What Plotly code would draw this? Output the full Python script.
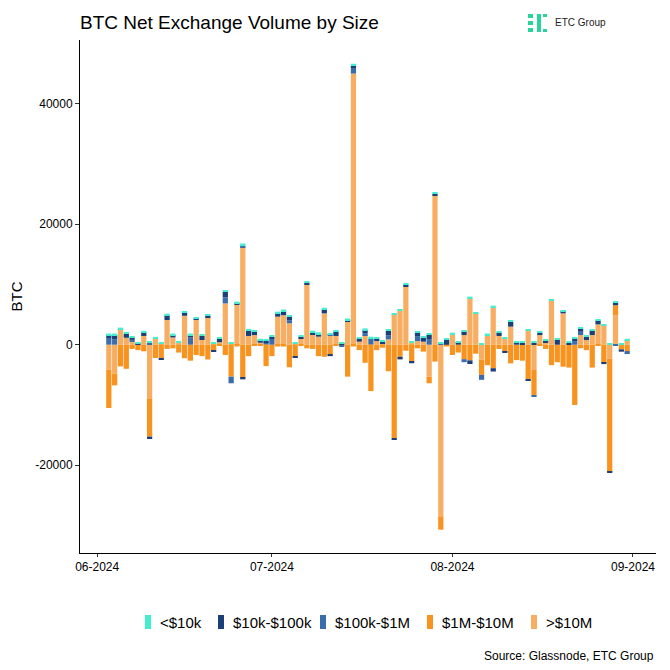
import pandas as pd
import plotly.graph_objects as go

# ---- data (BTC, daily) ----
dates = pd.date_range("2024-06-03", "2024-08-31", freq="D")

lt_10k = [250, 250, 250, 150, 200, 150, 200, 200, 250, 200,
          250, 250, 170, 250, 250, 200, 220, 220, 200, 220,
          280, 200, 250, 300, 280, 280, 220, 220, 280, 280,
          280, 280, 170, 280, 280, 280, 280, 280, 170, 280,
          170, 280, 330, 220, 280, 280, 220, 200, 280, 200,
          220, 170, 200, 220, 200, 220, 250, 200, 170, 220,
          170, 170, 280, 170, 170, 250, 280, 200, 170, 280,
          170, 170, 170, 170, 170, 170, 170, 170, 170, 170,
          170, 170, 170, 170, 170, 170, 170, 170, 170, 220]

k10_100k = [600, 700, 80, 650, 400, 50, 650, -400, 0, -170,
            800, 400, 0, 550, 400, 170, 700, 330, -220, 550,
            900, 0, 300, -250, 900, 550, 440, 300, 300, 550,
            660, 600, -200, 220, 330, 280, 440, 660, -200, 720,
            270, 280, 500, 550, 500, 0, 440, 330, 700, -220,
            -440, 280, -280, 700, 660, 700, 300, 0, 880, 0,
            440, 660, -600, 0, 0, 0, -550, 600, -200, 830,
            440, 330, -220, 330, 400, 330, 0, 880, 390, 300,
            500, 500, 550, 770, 660, -220, -150, 390, -390, 0]

k100_1m = [1000, 900, 0, 0, 300, 0, 0, 300, 0, 0,
           0, 0, 0, 0, 1200, 0, 0, 0, 0, 0,
           1000, -1100, 0, 300, 0, 0, 0, 360, 1000, 0,
           0, 500, 0, 0, 0, 0, 0, 0, 280, 0,
           -300, 0, 800, 0, 330, 1000, 0, 0, 700, 0,
           0, 0, 0, 740, 0, 950, 0, 200, 0, 0,
           0, -500, 0, 0, -830, 0, 0, 0, 0, 0,
           0, 0, 0, -170, 0, 0, 0, 0, 0, 0,
           600, 550, 0, 0, 0, 0, 0, -100, 0, -500]

m1_10m = [-6350, -1950, -3600, -4000, -700, -900, -1100, -6350, -2200, -2250,
          -700, -600, -1300, -2250, -2650, -1700, -1900, -2450, -900, -200,
          -1700, -5300, -300, -5500, -1900, -100, -100, -3550, -1900, -300,
          -300, -3750, -2000, -200, -600, -700, -1900, -2000, -1700, -100,
          -50, -5300, -300, -900, -3000, -7700, -900, -500, -4400, -15500,
          -2000, -1000, -2800, -600, -1150, -1100, -2800, -2200, -300, -1700,
          -1300, -2400, -2600, -1500, -2500, -3400, -3900, -700, -1150, -3100,
          -2550, -2650, -5750, -4150, -200, -700, -3400, -2900, -3650, -3800,
          -10000, -600, -900, -3800, -200, -3000, -18800, 1650, -770, -1050]

gt_10m = [-4150, -4800, 2500, 1150, 500, 100, 1450, -8900, 1050, 240,
          4100, 1200, 300, 4800, 0, 4100, 780, 4500, 240, 400,
          6850, 190, 6600, 16200, 1450, 1600, 330, 50, 0, 4650,
          4900, 3550, 200, 1100, 9950, 1770, 1330, 5200, 1450, 1450,
          0, 3800, 45000, 500, 1600, 50, 600, 150, 880, 5000,
          5640, 9700, 300, 600, 500, -5300, 24750, -28500, 0, 1770,
          0, 1600, 7700, 5200, -2500, 1600, 6200, 1440, 1000, 3000,
          0, 0, 2400, -4200, 1600, 440, 7400, 0, 5200, 0,
          0, 1600, 770, 1600, 3370, 3200, -2300, 4900, 0, 770]

series_names = ["<$10k", "$10k-$100k", "$100k-$1M", "$1M-$10M", ">$10M"]
series_values = [lt_10k, k10_100k, k100_1m, m1_10m, gt_10m]
series_colors = ["#45EDCF", "#1C3F78", "#3A6DAA", "#F7931E", "#F8AE62"]

ytick_vals = [-20000, 0, 20000, 40000]
ytick_text = ["-20000", "0", "20000", "40000"]
xtick_vals = ["2024-06-01", "2024-07-01", "2024-08-01", "2024-09-01"]

# ---- figure geometry (page has an 8px body margin) ----
OFF = 8
W = H = 654
L, T = 80 - OFF, 40 - OFF
PR, PB = 656 - OFF, 553 - OFF
R, B = W - PR, H - PB
pw, ph = PR - L, PB - T


def px_x(p):  # page pixel -> paper x
    return (p - OFF - L) / pw


def px_y(p):  # page pixel -> paper y
    return (PB - (p - OFF)) / ph


fig = go.Figure()
day_ms = 86400000
# stacking order: >$10M closest to zero, <$10k outermost
for name, vals, col in reversed(list(zip(series_names, series_values, series_colors))):
    fig.add_trace(go.Bar(x=dates, y=vals, name=name, marker_color=col,
                         marker_line_width=0, width=0.9 * day_ms, showlegend=False))

x0 = dates[0] - pd.Timedelta(days=4.95)
x1 = dates[-1] + pd.Timedelta(days=4.95)

fig.update_layout(
    width=W, height=H, autosize=False, barmode="relative",
    margin=dict(l=L, r=R, t=T, b=B, pad=0),
    plot_bgcolor="white", paper_bgcolor="white",
    font=dict(family="Liberation Sans, Arial", color="black"),
    title=dict(text="BTC Net Exchange Volume by Size", font=dict(size=19, color="black"),
               x=(80 - OFF) / W, xanchor="left", xref="container",
               y=1 - (22 - OFF) / H, yanchor="middle"),
    showlegend=False,
)
fig.update_xaxes(range=[x0, x1], type="date", showline=True, linecolor="black", linewidth=1,
                 ticks="outside", ticklen=3, tickcolor="#333333",
                 tickvals=xtick_vals, tickformat="%m-%Y", automargin=False,
                 tickfont=dict(size=12, color="black"), showgrid=False, zeroline=False)
fig.update_yaxes(range=[-34570, 50570], showline=True, linecolor="black", linewidth=1,
                 ticks="outside", ticklen=4, tickcolor="#333333",
                 tickvals=ytick_vals, ticktext=ytick_text, automargin=False,
                 tickfont=dict(size=12, color="black"), showgrid=False, zeroline=False,
                 title=dict(text="BTC", font=dict(size=15), standoff=8))

# legend (keys + labels) below the plot
leg_y = 622
leg_sym_x = [145, 218, 320, 427, 531]
for name, col, sx in zip(series_names, series_colors, leg_sym_x):
    fig.add_shape(type="rect", xref="paper", yref="paper",
                  x0=px_x(sx), x1=px_x(sx + 6), y0=px_y(leg_y + 7), y1=px_y(leg_y - 7),
                  fillcolor=col, line_width=0)
    fig.add_annotation(text=name, xref="paper", yref="paper",
                       x=px_x(sx + 13), y=px_y(leg_y), xanchor="left", yanchor="middle",
                       showarrow=False, font=dict(size=15, color="black"))

# source note
fig.add_annotation(text="Source: Glassnode, ETC Group", xref="paper", yref="paper",
                   x=px_x(656), y=px_y(656), xanchor="right", yanchor="middle",
                   showarrow=False, font=dict(size=12, color="black"))

# logo
fig.add_annotation(text="ETC Group", xref="paper", yref="paper",
                   x=px_x(553), y=px_y(23), xanchor="left", yanchor="middle",
                   showarrow=False, font=dict(size=10, color="#222222"))
logo_green = "#27D59C"
logo_rects = [(528, 14, 533, 18), (528, 21, 533, 25), (528, 28, 533, 32),
              (537, 14, 541, 32), (543, 14, 547, 17), (543, 29, 547, 32)]
for (ax, ay, bx, by) in logo_rects:
    fig.add_shape(type="rect", xref="paper", yref="paper",
                  x0=px_x(ax), x1=px_x(bx), y0=px_y(by), y1=px_y(ay),
                  fillcolor=logo_green, line_width=0)

fig.write_html("out.html")
